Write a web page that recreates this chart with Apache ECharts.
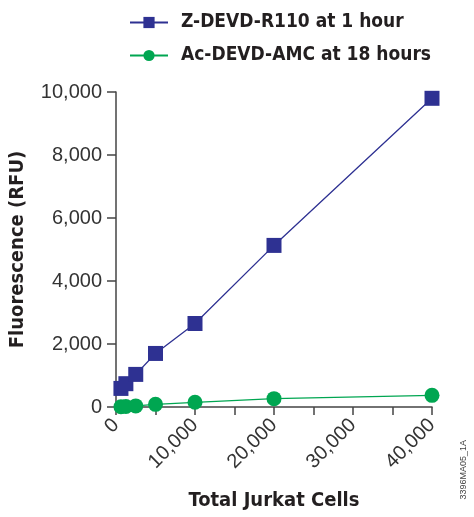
<!DOCTYPE html>
<html>
<head>
<meta charset="utf-8">
<script src="https://cdn.jsdelivr.net/npm/echarts@6/dist/echarts.min.js"></script>
<style>html,body{margin:0;padding:0;background:#fff;}#c{width:474px;height:517px;}</style>
</head>
<body>
<div id="c"></div>
<script>
const cells = [625, 1250, 2500, 5000, 10000, 20000, 40000];
const r110 = [590, 740, 1035, 1700, 2650, 5130, 9800];
const amc = [10, 15, 35, 85, 150, 265, 370];
const seriesNames = ['Z-DEVD-R110 at 1 hour', 'Ac-DEVD-AMC at 18 hours'];
const xTitle = 'Total Jurkat Cells';
const yTitle = 'Fluorescence (RFU)';

const boldFont = 'DejaVu Sans Condensed';
const tickFont = 'Liberation Sans';
const fmt = v => v.toLocaleString('en-US');

const chart = echarts.init(document.getElementById('c'), null, {renderer: 'canvas'});
chart.setOption({
  animation: false,
  backgroundColor: '#fff',
  legend: {
    orient: 'vertical',
    left: 124,
    top: 8,
    itemWidth: 38,
    itemHeight: 14,
    itemGap: 14,
    textStyle: {fontFamily: boldFont, fontWeight: 'bold', fontSize: 19, color: '#231f20', padding: [0, 0, 0, 8]},
    data: seriesNames
  },
  grid: {left: 115, right: 42, top: 92, bottom: 110, containLabel: false},
  xAxis: {
    type: 'value', min: 0, max: 40000, interval: 5000,
    name: xTitle, nameLocation: 'middle', nameGap: 84,
    nameTextStyle: {fontFamily: boldFont, fontWeight: 'bold', fontSize: 20, color: '#231f20'},
    axisLine: {show: true, lineStyle: {color: '#444', width: 1.5}},
    axisTick: {show: true, length: 8, lineStyle: {color: '#444', width: 1.5}},
    splitLine: {show: false},
    axisLabel: {
      rotate: 45, fontSize: 20, color: '#333', fontFamily: tickFont, margin: 15,
      formatter: v => (v % 10000 === 0 ? fmt(v) : '')
    }
  },
  yAxis: {
    type: 'value', min: 0, max: 10000, interval: 2000,
    name: yTitle, nameLocation: 'middle', nameGap: 88, nameRotate: 90,
    nameTextStyle: {fontFamily: boldFont, fontWeight: 'bold', fontSize: 20, color: '#231f20'},
    axisLine: {show: true, lineStyle: {color: '#444', width: 1.5}},
    axisTick: {show: true, inside: false, length: 9, lineStyle: {color: '#444', width: 1.5}},
    splitLine: {show: false},
    axisLabel: {fontSize: 20, color: '#333', fontFamily: tickFont, margin: 14, formatter: v => fmt(v)}
  },
  series: [
    {
      name: seriesNames[0], type: 'line',
      data: cells.map((c, i) => [c, r110[i]]),
      symbol: 'rect', symbolSize: 15,
      itemStyle: {color: '#2e3192'},
      lineStyle: {color: '#2e3192', width: 1.3},
      z: 3
    },
    {
      name: seriesNames[1], type: 'line',
      data: cells.map((c, i) => [c, amc[i]]),
      symbol: 'circle', symbolSize: 15,
      itemStyle: {color: '#00a651'},
      lineStyle: {color: '#00a651', width: 1.3},
      z: 4
    }
  ],
  graphic: [{
    type: 'text', right: 6, top: 440, rotation: Math.PI / 2,
    style: {text: '3396MA05_1A', fontSize: 9, fill: '#444', fontFamily: tickFont}
  }]
});
</script>
</body>
</html>
